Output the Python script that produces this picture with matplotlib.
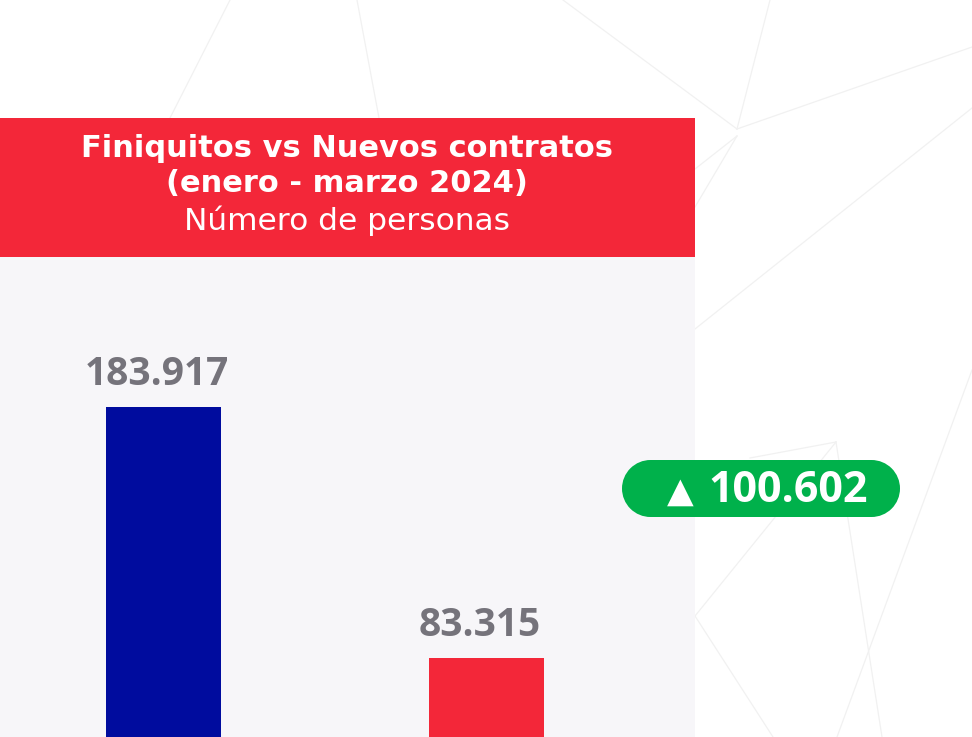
import matplotlib
matplotlib.use("Agg")
import matplotlib.pyplot as plt
from matplotlib.patches import Rectangle, Circle

# ---- data ----
categories = ["Finiquitos", "Nuevos contratos"]
values = [183917, 83315]
value_labels = ["183.917", "83.315"]
diff_marker = "\u25B2"
diff_label = "100.602"
title_lines = ["Finiquitos vs Nuevos contratos", "(enero - marzo 2024)"]
subtitle = "Número de personas"

# ---- style ----
RED = "#f32739"
BLUE = "#000c9e"
GREEN = "#00b14b"
PANEL = "#f7f6f9"
GRAY = "#75737b"
FONT = ["Open Sans", "DejaVu Sans"]
HFONT = ["DejaVu Sans"]
plt.rcParams["font.family"] = FONT

W, H = 972, 737
fig = plt.figure(figsize=(W / 100, H / 100), dpi=100)
fig.patch.set_facecolor("white")

# background axes in pixel coordinates
bg = fig.add_axes([0, 0, 1, 1], zorder=0)
bg.set_xlim(0, W)
bg.set_ylim(H, 0)
bg.axis("off")

# faint decorative lines
deco = [
    [(230, 0), (170, 118)],
    [(357, 0), (379, 118)],
    [(563, 0), (737, 129)],
    [(770, 0), (737, 129)],
    [(737, 129), (972, 47)],
    [(695, 169), (737, 136)],
    [(695, 207), (737, 136)],
    [(695, 329), (972, 108)],
    [(836, 442), (750, 458)],
    [(836, 442), (695, 616)],
    [(836, 442), (882, 737)],
    [(972, 370), (837, 737)],
    [(695, 616), (773, 737)],
]
for (x0, y0), (x1, y1) in deco:
    bg.plot([x0, x1], [y0, y1], color="#f1f1f1", lw=0.9, zorder=0)

# panel and header
bg.add_patch(Rectangle((0, 118), 695, 619, facecolor=PANEL, edgecolor="none", zorder=1))
bg.add_patch(Rectangle((0, 118), 695, 139, facecolor=RED, edgecolor="none", zorder=2))
bg.text(347, 157, title_lines[0], ha="center", va="baseline", color="white",
        fontsize=22, fontweight="bold", family=HFONT, zorder=3)
bg.text(347, 192, title_lines[1], ha="center", va="baseline", color="white",
        fontsize=22, fontweight="bold", family=HFONT, zorder=3)
bg.text(347, 230, subtitle, ha="center", va="baseline", color="white",
        fontsize=22.5, family=HFONT, zorder=3)

# green pill (rectangle with round ends)
px, py, pw, ph = 622, 460, 278, 57
r = ph / 2
bg.add_patch(Rectangle((px + r, py), pw - 2 * r, ph, facecolor=GREEN, edgecolor="none", zorder=3))
bg.add_patch(Circle((px + r, py + r), r, facecolor=GREEN, edgecolor="none", zorder=3))
bg.add_patch(Circle((px + pw - r, py + r), r, facecolor=GREEN, edgecolor="none", zorder=3))
bg.text(680, 502, diff_marker, ha="center", va="baseline", color="white",
        fontsize=25, family=["DejaVu Sans"], zorder=4)
bg.text(868, 502, diff_label, ha="right", va="baseline", color="white",
        fontsize=31, fontweight="bold", zorder=4)

# bar axes
ax = fig.add_axes([0, 0, 695 / W, (H - 257) / H], zorder=2)
ax.set_facecolor("none")
x = list(range(len(categories)))
bars = ax.bar(x, values, width=0.356, color=[BLUE, RED])
ax.set_xlim(-0.506, 1.646)
ax.set_ylim(51700, 244100)
ax.axis("off")
for xi, v, lab in zip(x, values, value_labels):
    ax.annotate(lab, (xi, v), xytext=(-5, 16), textcoords="offset points",
                ha="center", va="baseline", color=GRAY, fontsize=28, fontweight="bold")

fig.savefig("out.png", dpi=100)
